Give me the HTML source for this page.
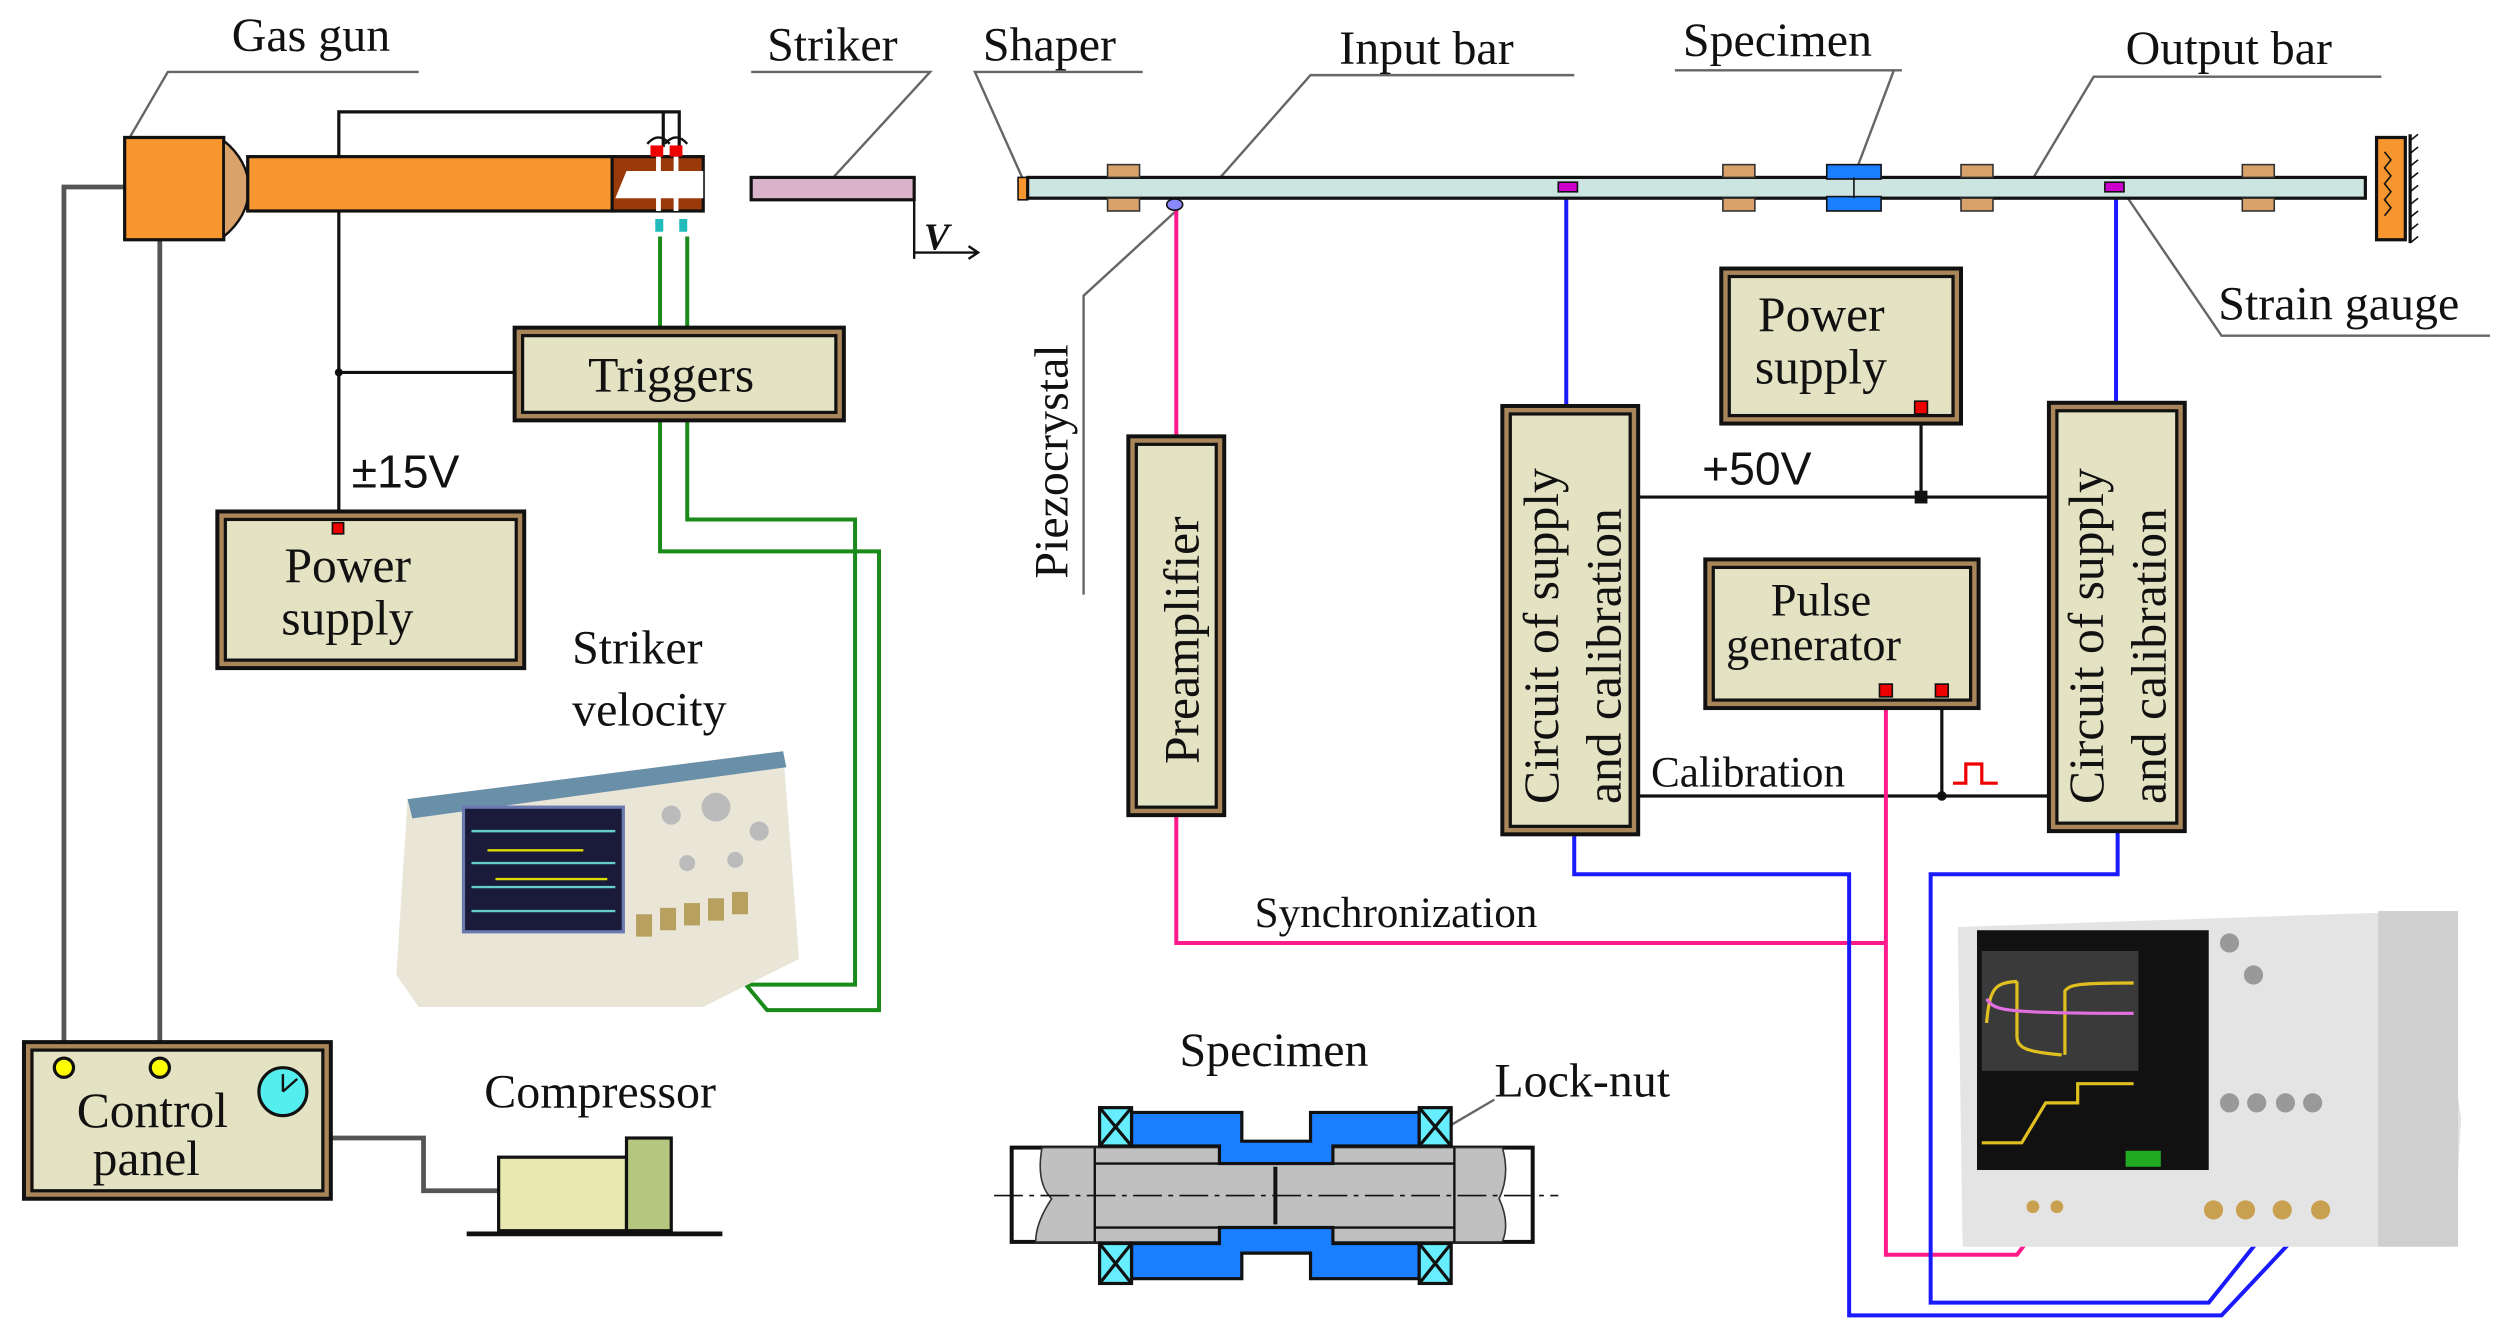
<!DOCTYPE html>
<html><head><meta charset="utf-8"><style>
html,body{margin:0;padding:0;background:#fff}
svg{display:block}
text{font-family:"Liberation Serif",serif;fill:#111}
.s{font-family:"Liberation Sans",sans-serif}
</style></head><body>
<svg width="2506" height="1341" viewBox="0 0 1568 839" preserveAspectRatio="none" xmlns="http://www.w3.org/2000/svg">
<rect width="1568" height="839" fill="#fff"/>
<!-- leaders/labels top -->
<g stroke="#666" stroke-width="1.5" fill="none">
<path d="M262 45H105L80 88"/>
<path d="M470 45H582L515 118"/>
<path d="M715 45H610L640 112"/>
<path d="M985 47H820L760 115"/>
<path d="M1190 44H1048M1185 44L1162 105"/>
<path d="M1490 48H1310L1270 115"/>
<path d="M1558 210H1390L1330 122"/>
<path d="M738 130L678 185V372"/>
<path d="M935 688L906 705"/>
</g>
<g font-size="30">
<text x="145" y="32">Gas gun</text>
<text x="480" y="38">Striker</text>
<text x="615" y="38">Shaper</text>
<text x="838" y="40">Input bar</text>
<text x="1053" y="35">Specimen</text>
<text x="1330" y="40">Output bar</text>
<text x="1388" y="200">Strain gauge</text>
<text x="358" y="415">Striker</text>
<text x="358" y="454">velocity</text>
<text x="303" y="693">Compressor</text>
<text x="738" y="667">Specimen</text>
<text x="935" y="686">Lock-nut</text>
<text x="785" y="580" font-size="27">Synchronization</text>
<text x="1033" y="492" font-size="27">Calibration</text>
<text x="668" y="362" transform="rotate(-90 668 362)">Piezocrystal</text>
</g>
<text class="s" x="220" y="305" font-size="29">±15V</text>
<text class="s" x="1065" y="303" font-size="29">+50V</text>

<!-- gray wires left -->
<g stroke="#555" stroke-width="3" fill="none">
<path d="M78 117H40V668"/>
<path d="M100 150V668"/>
<path d="M207 712H265V745H312"/>
</g>
<!-- black wires -->
<g stroke="#111" stroke-width="2" fill="none">
<path d="M212 330V70H425V92M415 70V92"/>
<path d="M212 233H322"/>
<path d="M1202 255V311M1025 311H1282"/>
<path d="M1025 498H1282M1215 432V498"/>
</g>
<circle cx="212" cy="233" r="2.5" fill="#111"/>
<rect x="1198" y="307" width="8" height="8" fill="#111"/>
<circle cx="1215" cy="498" r="3" fill="#111"/>
<!-- green -->
<g stroke="#1a8a1a" stroke-width="2.5" fill="none">
<path d="M413 148V205M430 148V205"/>
<path d="M430 263V325H535V616H470L435 585"/>
<path d="M413 263V345H550V632H480L445 590"/>
</g>
<!-- pink -->
<g stroke="#ff1a8c" stroke-width="2.5" fill="none">
<path d="M736 131V273M736 510V590H1180"/>
<path d="M1180 432V785H1262L1285 755"/>
</g>
<!-- blue -->
<g stroke="#1a1aff" stroke-width="2.5" fill="none">
<path d="M980 120V254M1324 120V252"/>
<path d="M985 522V547H1157V823H1390L1452 757"/>
<path d="M1325 520V547H1208V815H1382L1430 755"/>
</g>

<!-- gas gun -->
<rect x="78" y="86" width="62" height="64" fill="#f7962e" stroke="#111" stroke-width="2"/>
<path d="M140 88Q155 100 156 118Q155 136 140 148Z" fill="#d9a26a" stroke="#111" stroke-width="1.5"/>
<rect x="155" y="98" width="230" height="34" fill="#f7962e" stroke="#111" stroke-width="2"/>
<rect x="383" y="98" width="57" height="34" fill="#9a3a0a" stroke="#111" stroke-width="2"/>
<path d="M392 107H440V124H385Z" fill="#fff"/>
<path d="M412 98V132M423 98V132" stroke="#fff" stroke-width="3"/>
<path d="M405 90Q412 82 419 90M416 90Q423 82 430 90" stroke="#111" stroke-width="1.5" fill="none"/>
<rect x="407" y="91" width="8" height="7" fill="#e00"/><rect x="419" y="91" width="8" height="7" fill="#e00"/>
<rect x="410" y="137" width="5" height="8" fill="#2bb"/><rect x="425" y="137" width="5" height="8" fill="#2bb"/>

<!-- striker -->
<rect x="470" y="111" width="102" height="14" fill="#d9b3c9" stroke="#111" stroke-width="2"/>
<path d="M572 125V162M572 158H612M606 154L612 158L606 162" stroke="#111" stroke-width="1.5" fill="none"/>
<text x="578" y="156" font-size="24" font-style="italic" font-weight="bold">V</text>

<!-- bar -->
<rect x="637" y="111" width="6" height="14" fill="#f7962e" stroke="#111"/>
<rect x="643" y="111" width="837" height="13" fill="#cde5e0" stroke="#111" stroke-width="2"/>
<g fill="#d9a26a" stroke="#333" stroke-width="1">
<rect x="693" y="103" width="20" height="8"/><rect x="693" y="124" width="20" height="8"/>
<rect x="1078" y="103" width="20" height="8"/><rect x="1078" y="124" width="20" height="8"/>
<rect x="1227" y="103" width="20" height="8"/><rect x="1227" y="124" width="20" height="8"/>
<rect x="1403" y="103" width="20" height="8"/><rect x="1403" y="124" width="20" height="8"/>
</g>
<rect x="1143" y="103" width="34" height="9" fill="#1a7fff" stroke="#111"/>
<rect x="1143" y="123" width="34" height="9" fill="#1a7fff" stroke="#111"/>
<path d="M1160 111V124" stroke="#111"/>
<rect x="975" y="114" width="12" height="6" fill="#c0c" stroke="#111"/>
<rect x="1317" y="114" width="12" height="6" fill="#c0c" stroke="#111"/>
<ellipse cx="735" cy="128" rx="5" ry="3.5" fill="#88f" stroke="#111"/>
<rect x="1487" y="86" width="18" height="64" fill="#f7962e" stroke="#111" stroke-width="2"/>
<path d="M1492 95l4 5-4 5 4 5-4 5 4 5-4 5 4 5-4 5" stroke="#111" fill="none"/>
<path d="M1508 84V152" stroke="#111" stroke-width="2"/>
<path d="M1508 88l5-4M1508 96l5-4M1508 104l5-4M1508 112l5-4M1508 120l5-4M1508 128l5-4M1508 136l5-4M1508 144l5-4M1508 152l5-4" stroke="#111"/>

<!-- boxes -->
<g stroke="#111" stroke-width="2.5">
<rect x="322" y="205" width="206" height="58" fill="#a8865a"/><rect x="327" y="210" width="196" height="48" fill="#e3e3c3" stroke-width="2"/>
<rect x="136" y="320" width="192" height="98" fill="#a8865a"/><rect x="141" y="325" width="182" height="88" fill="#e3e3c3" stroke-width="2"/>
<rect x="706" y="273" width="60" height="237" fill="#a8865a"/><rect x="711" y="278" width="50" height="227" fill="#e3e3c3" stroke-width="2"/>
<rect x="940" y="254" width="85" height="268" fill="#a8865a"/><rect x="945" y="259" width="75" height="258" fill="#e3e3c3" stroke-width="2"/>
<rect x="1282" y="252" width="85" height="268" fill="#a8865a"/><rect x="1287" y="257" width="75" height="258" fill="#e3e3c3" stroke-width="2"/>
<rect x="1077" y="168" width="150" height="97" fill="#a8865a"/><rect x="1082" y="173" width="140" height="87" fill="#e3e3c3" stroke-width="2"/>
<rect x="1067" y="350" width="171" height="93" fill="#a8865a"/><rect x="1072" y="355" width="161" height="83" fill="#e3e3c3" stroke-width="2"/>
<rect x="15" y="652" width="192" height="98" fill="#a8865a"/><rect x="20" y="657" width="182" height="88" fill="#e3e3c3" stroke-width="2"/>
</g>
<g font-size="31">
<text x="368" y="245">Triggers</text>
<text x="178" y="364">Power</text><text x="176" y="397">supply</text>
<text x="1100" y="207">Power</text><text x="1098" y="240">supply</text>
<text x="1108" y="385" font-size="29">Pulse</text><text x="1080" y="413" font-size="29">generator</text>
<text x="48" y="705">Control</text><text x="58" y="735">panel</text>
<text x="750" y="478" transform="rotate(-90 750 478)">Preamplifier</text>
<text x="975" y="503" transform="rotate(-90 975 503)">Circuit of supply</text>
<text x="1014" y="503" transform="rotate(-90 1014 503)">and calibration</text>
<text x="1316" y="503" transform="rotate(-90 1316 503)">Circuit of supply</text>
<text x="1355" y="503" transform="rotate(-90 1355 503)">and calibration</text>
</g>
<g fill="#e00" stroke="#111" stroke-width="1">
<rect x="208" y="327" width="7" height="7"/>
<rect x="1198" y="251" width="8" height="8"/>
<rect x="1176" y="428" width="8" height="8"/><rect x="1211" y="428" width="8" height="8"/>
</g>
<path d="M1222 490H1230V478H1240V490H1250" stroke="#e00" stroke-width="2" fill="none"/>
<circle cx="40" cy="668" r="6" fill="#ff0" stroke="#111" stroke-width="2"/>
<circle cx="100" cy="668" r="6" fill="#ff0" stroke="#111" stroke-width="2"/>
<circle cx="177" cy="683" r="15" fill="#5ee" stroke="#111" stroke-width="2"/>
<path d="M177 683L186 675M177 683V672" stroke="#111" stroke-width="1.5"/>

<!-- compressor -->
<path d="M292 772H452" stroke="#111" stroke-width="3"/>
<rect x="312" y="724" width="80" height="46" fill="#e8e8b0" stroke="#111" stroke-width="2"/>
<rect x="392" y="712" width="28" height="58" fill="#b5c77f" stroke="#111" stroke-width="2"/>

<!-- left oscilloscope -->
<path d="M255 500L490 470L500 600L440 630H262L248 610Z" fill="#e9e6d8"/>
<path d="M255 500L490 470L492 480L258 512Z" fill="#6a8fa8"/>
<rect x="290" y="505" width="100" height="78" fill="#1a1a3a" stroke="#6a7ab0" stroke-width="2"/>
<path d="M295 520H385M295 540H385M295 555H385M295 570H385" stroke="#6cc" stroke-width="1.5"/>
<path d="M305 532h60M310 550h70" stroke="#dd0" stroke-width="1.5"/>
<g fill="#b8a060"><rect x="398" y="572" width="10" height="14"/><rect x="413" y="568" width="10" height="14"/><rect x="428" y="565" width="10" height="14"/><rect x="443" y="562" width="10" height="14"/><rect x="458" y="558" width="10" height="14"/></g>
<g fill="#bbb"><circle cx="420" cy="510" r="6"/><circle cx="448" cy="505" r="9"/><circle cx="475" cy="520" r="6"/><circle cx="430" cy="540" r="5"/><circle cx="460" cy="538" r="5"/></g>

<!-- right oscilloscope -->
<path d="M1225 580L1520 570L1540 700L1535 780H1228Z" fill="#e4e4e4"/>
<rect x="1488" y="570" width="50" height="210" fill="#cfcfcf"/>
<rect x="1237" y="582" width="145" height="150" fill="#111"/>
<rect x="1240" y="595" width="98" height="75" fill="#3a3a3a"/>
<path d="M1243 640C1245 618 1248 615 1262 614M1262 614V648C1262 656 1268 658 1290 660M1292 660V620C1295 616 1300 615 1335 615" stroke="#e0c020" stroke-width="2" fill="none"/>
<path d="M1243 625C1248 632 1250 634 1335 634" stroke="#e070e0" stroke-width="2" fill="none"/>
<path d="M1240 715H1265L1280 690H1300V678H1335" stroke="#e0c020" stroke-width="2" fill="none"/>
<rect x="1330" y="720" width="22" height="10" fill="#2a2"/>
<g fill="#999"><circle cx="1395" cy="590" r="6"/><circle cx="1410" cy="610" r="6"/><circle cx="1395" cy="690" r="6"/><circle cx="1412" cy="690" r="6"/><circle cx="1430" cy="690" r="6"/><circle cx="1447" cy="690" r="6"/></g>
<g fill="#c8a050"><circle cx="1385" cy="757" r="6"/><circle cx="1405" cy="757" r="6"/><circle cx="1428" cy="757" r="6"/><circle cx="1452" cy="757" r="6"/><circle cx="1272" cy="755" r="4"/><circle cx="1287" cy="755" r="4"/></g>

<!-- specimen detail -->
<g stroke="#111" stroke-width="2">
<rect x="633" y="718" width="326" height="59" fill="#fff" stroke-width="2.5"/>
<path d="M652 718Q648 740 658 750Q648 765 648 777H940Q945 765 938 750Q945 735 940 718H652Z" fill="#c0c0c0" stroke="#333" stroke-width="1"/>
<path d="M685 718V777M910 718V777" stroke-width="1.5"/>
<path d="M708 696H777V714H820V696H888V717H834V728H763V717H708Z" fill="#1a7fff"/>
<path d="M708 800H777V784H820V800H888V778H834V768H763V778H708Z" fill="#1a7fff"/>
<rect x="688" y="693" width="20" height="24" fill="#6ef"/><path d="M688 693L708 717M708 693L688 717"/>
<rect x="888" y="693" width="20" height="24" fill="#6ef"/><path d="M888 693L908 717M908 693L888 717"/>
<rect x="688" y="778" width="20" height="25" fill="#6ef"/><path d="M688 778L708 803M708 778L688 803"/>
<rect x="888" y="778" width="20" height="25" fill="#6ef"/><path d="M888 778L908 803M908 778L888 803"/>
<path d="M798 730V766" stroke-width="2.5"/>
<path d="M685 728H763M834 728H910M685 768H763M834 768H910" stroke-width="1.5"/>
<path d="M622 748H975" stroke-width="1" stroke-dasharray="18 4 3 4"/>
</g>
</svg>
</body></html>
